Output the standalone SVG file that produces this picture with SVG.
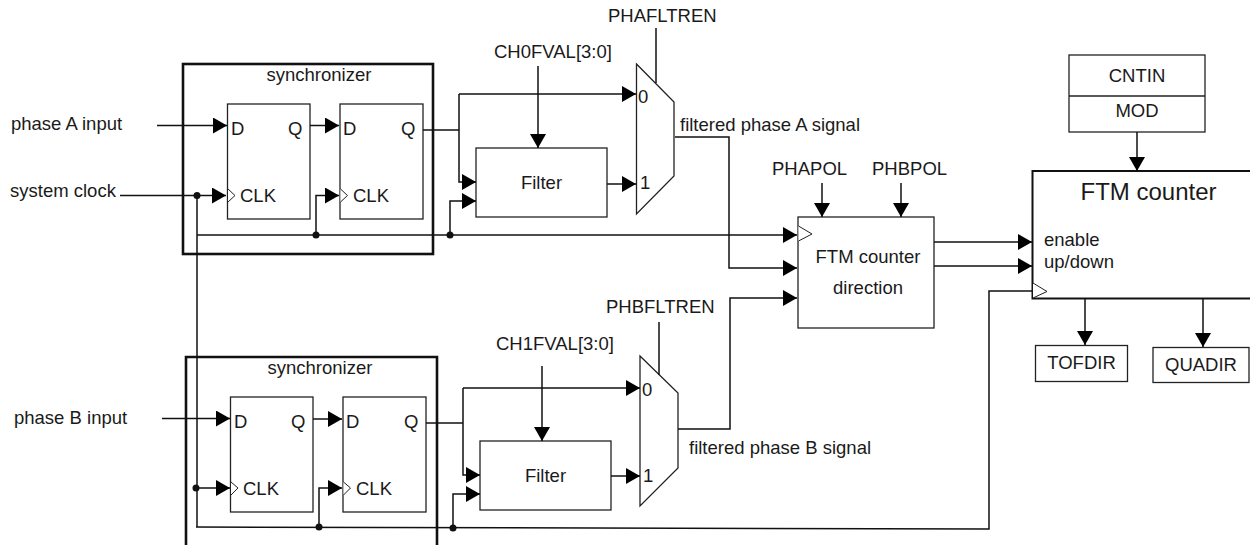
<svg xmlns="http://www.w3.org/2000/svg" width="1250" height="545" viewBox="0 0 1250 545">
<style>
text{font-family:"Liberation Sans",Arial,sans-serif;font-size:18.500px;fill:#1a1a1a}
.big{font-size:24px}
.b{fill:#fff;stroke:#222;stroke-width:1.3}
.thick{fill:none;stroke:#111;stroke-width:2.6}
.clk{fill:#fff;stroke:#222;stroke-width:1}
#connectors path{fill:none;stroke:#111;stroke-width:1.500}
.dot{fill:#111;stroke:none}
</style>
<defs>
<marker id="a" markerUnits="userSpaceOnUse" markerWidth="15" markerHeight="16" refX="14" refY="8" orient="auto"><path d="M0,0L14,8L0,16Z" fill="#000"/></marker>
</defs>
<g id="sync-a"><rect class="thick" x="183" y="64" width="250" height="190"/><text x="319" y="81" text-anchor="middle">synchronizer</text></g>
<g id="sync-b"><path class="thick" d="M186,545V357H437V545"/><text x="320" y="374" text-anchor="middle">synchronizer</text></g>
<g id="ff-a1"><rect class="b" x="227.500" y="104" width="82.500" height="115"/><text x="231" y="135">D</text><text x="288" y="135">Q</text><text x="240" y="202">CLK</text><path class="clk" d="M228,189L235,195.500L228,202"/></g>
<g id="ff-a2"><rect class="b" x="340" y="104" width="83" height="115"/><text x="343" y="135">D</text><text x="401" y="135">Q</text><text x="353" y="202">CLK</text><path class="clk" d="M340.500,189L347.500,195.500L340.500,202"/></g>
<g id="ff-b1"><rect class="b" x="230.500" y="397" width="82.500" height="115"/><text x="234" y="428">D</text><text x="291" y="428">Q</text><text x="243" y="495">CLK</text><path class="clk" d="M231,482L238,488L231,495"/></g>
<g id="ff-b2"><rect class="b" x="343" y="397" width="83" height="115"/><text x="346" y="428">D</text><text x="404" y="428">Q</text><text x="356" y="495">CLK</text><path class="clk" d="M343.500,482L350.500,488L343.500,495"/></g>
<g id="filter-a"><rect class="b" x="476" y="148" width="131" height="69"/><text x="541.500" y="189" text-anchor="middle">Filter</text></g>
<g id="filter-b"><rect class="b" x="480" y="441" width="131" height="69"/><text x="545.500" y="482" text-anchor="middle">Filter</text></g>
<g id="mux-a"><path class="b" d="M636.500,64L674,102V176L636.500,214Z"/><text x="638" y="103">0</text><text x="640" y="189">1</text></g>
<g id="mux-b"><path class="b" d="M640,356L678,393V468L640,506Z"/><text x="642" y="396">0</text><text x="643" y="482">1</text></g>
<g id="dir"><rect class="b" x="798" y="217" width="136" height="111"/><path class="clk" d="M798.500,226L812,234L798.500,241"/><text x="868" y="263" text-anchor="middle">FTM counter</text><text x="868" y="294" text-anchor="middle">direction</text></g>
<g id="counter"><path fill="#fff" stroke="#111" stroke-width="2" d="M1250,171H1032.500V298.500H1250"/><path class="clk" d="M1033,283L1047,291.500L1033,298"/><text class="big" x="1148.500" y="200" text-anchor="middle">FTM counter</text><text x="1044" y="246">enable</text><text x="1044" y="268">up/down</text></g>
<g id="cntin"><rect class="b" x="1069" y="55" width="136" height="77"/><path class="b" d="M1069,96H1205"/><text x="1137" y="82" text-anchor="middle">CNTIN</text><text x="1137" y="117" text-anchor="middle">MOD</text></g>
<g id="tofdir"><rect class="b" x="1035.500" y="345.500" width="92" height="36"/><text x="1081.500" y="369" text-anchor="middle">TOFDIR</text></g>
<g id="quadir"><rect class="b" x="1153" y="347.500" width="96" height="35"/><text x="1201" y="371" text-anchor="middle">QUADIR</text></g>
<g id="labels">
<text x="11" y="130">phase A input</text><text x="10" y="197">system clock</text><text x="14" y="424">phase B input</text>
<text x="608" y="22">PHAFLTREN</text><text x="494" y="58">CH0FVAL[3:0]</text><text x="680" y="131">filtered phase A signal</text>
<text x="772" y="175">PHAPOL</text><text x="872" y="175">PHBPOL</text>
<text x="606" y="313">PHBFLTREN</text><text x="496" y="350">CH1FVAL[3:0]</text><text x="689" y="454">filtered phase B signal</text>
</g>
<g id="connectors">
<path marker-end="url(#a)" d="M157,125.500H227"/>
<path marker-end="url(#a)" d="M310,125.500H339"/>
<path marker-end="url(#a)" d="M120,195.500H226"/>
<path marker-end="url(#a)" d="M316,235V195.500H339"/>
<path d="M197,195.500V527"/>
<path marker-end="url(#a)" d="M197,235H797"/>
<path d="M423,130H459"/>
<path marker-end="url(#a)" d="M459,94V182H476"/>
<path marker-end="url(#a)" d="M459,94H636"/>
<path marker-end="url(#a)" d="M450,235V201H476"/>
<path marker-end="url(#a)" d="M538,66V148"/>
<path marker-end="url(#a)" d="M607,184H636"/>
<path d="M656,28V83"/>
<path marker-end="url(#a)" d="M675,137H729V268H797"/>
<path marker-end="url(#a)" d="M822,183V217"/>
<path marker-end="url(#a)" d="M901,183V217"/>
<path marker-end="url(#a)" d="M934,242H1032"/>
<path marker-end="url(#a)" d="M934,266H1032"/>
<path marker-end="url(#a)" d="M1137,132V171"/>
<path marker-end="url(#a)" d="M1085,298V345"/>
<path marker-end="url(#a)" d="M1203,298V347"/>
<path marker-end="url(#a)" d="M162,418.500H230"/>
<path marker-end="url(#a)" d="M313,419H342"/>
<path marker-end="url(#a)" d="M196,488H230"/>
<path marker-end="url(#a)" d="M319,527V488H342"/>
<path d="M196,527L989,529V291H1032"/>
<path d="M426,423H463"/>
<path marker-end="url(#a)" d="M463,388V475H480"/>
<path marker-end="url(#a)" d="M463,388H640"/>
<path marker-end="url(#a)" d="M453,528V494H480"/>
<path marker-end="url(#a)" d="M542,366V441"/>
<path marker-end="url(#a)" d="M611,476H640"/>
<path d="M659,322V375"/>
<path marker-end="url(#a)" d="M678,429H730V298H797"/>
<circle class="dot" cx="197" cy="195.500" r="3.500"/><circle class="dot" cx="316" cy="235" r="3.500"/><circle class="dot" cx="450" cy="235" r="3.500"/>
<circle class="dot" cx="196" cy="488" r="3.500"/><circle class="dot" cx="319" cy="527" r="3.500"/><circle class="dot" cx="453" cy="528" r="3.500"/>
</g>
</svg>
